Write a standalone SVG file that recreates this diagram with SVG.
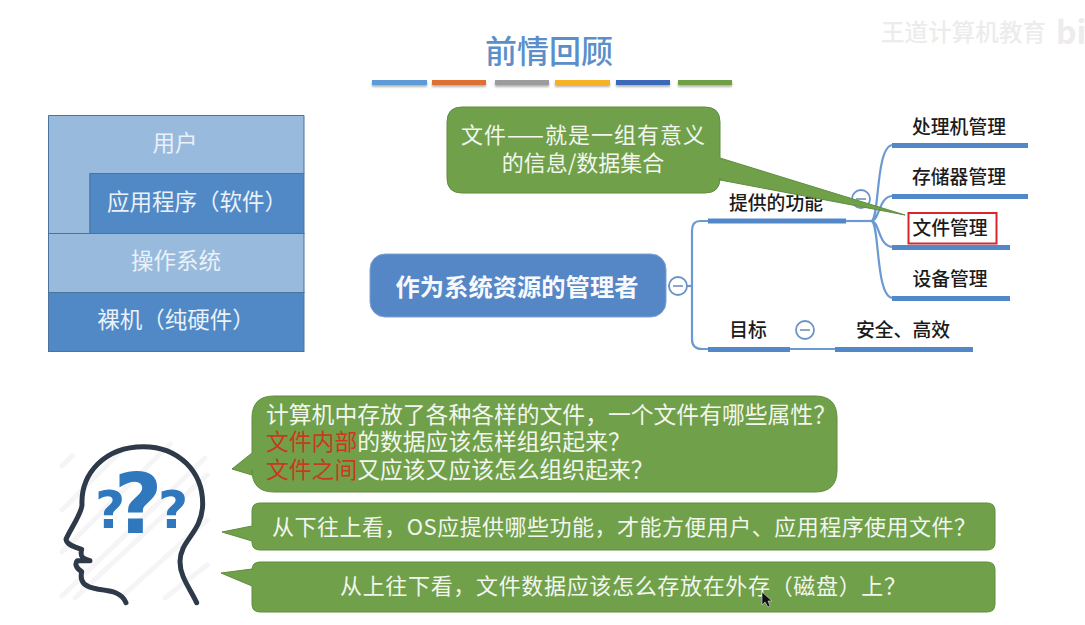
<svg xmlns="http://www.w3.org/2000/svg" width="1085" height="625" viewBox="0 0 1085 625">
<defs>
<filter id="soft" x="-10%" y="-50%" width="120%" height="250%"><feDropShadow dx="0" dy="2" stdDeviation="1.2" flood-color="#555" flood-opacity=".45"/></filter>
</defs>
<style>
text{font-family:"Noto Sans CJK SC","Noto Sans",sans-serif}
.bub{fill:#70a04a;stroke:#5f8d3e;stroke-width:1}
.w{fill:#f2f6ee;font-size:22px}
.big{font-size:22.8px}
.r{fill:#c8391f}
.sw{fill:#eaf1f8;font-size:22.5px;text-anchor:middle}
.lay{stroke:#4a739e;stroke-width:1}
.lt{fill:#97badd}
.dk{fill:#5089c6}
.bar{fill:#5388c8}
.link{fill:none;stroke:#6b9ad2;stroke-width:2.2}
.m{fill:#1b1b1b;font-size:18.8px;font-weight:500;text-anchor:middle}
.col{fill:#fff;stroke:#6b94c6;stroke-width:1.8}
.minus{stroke:#8ca6c6;stroke-width:2}
.q{fill:#2f78bd;font-weight:700;text-anchor:middle;font-family:"DejaVu Sans",sans-serif}
</style>
<rect width="1085" height="625" fill="#fff"/>
<g id="watermark"><text x="881" y="41" font-size="23.5" font-weight="500" fill="#ececec" textLength="165">王道计算机教育</text><text x="1056" y="44" font-size="32" font-weight="700" fill="#ececec">bi</text></g>
<g id="title">
<text x="549" y="63" font-size="32" font-weight="500" fill="#5b8fc9" text-anchor="middle">前情回顾</text>
<g filter="url(#soft)">
<rect x="372" y="80" width="55" height="5" fill="#5b9bd5"/>
<rect x="432" y="80" width="54" height="5" fill="#dd6f31"/>
<rect x="495" y="80" width="54" height="5" fill="#9c9c9c"/>
<rect x="555" y="80" width="55" height="5" fill="#f6b128"/>
<rect x="616" y="80" width="54" height="5" fill="#3b68b8"/>
<rect x="678" y="80" width="54" height="5" fill="#6fa044"/>
</g></g>
<g id="layers">
<path class="lay lt" d="M48.500 115.500H304V173.500H90V233.500H48.500Z"/>
<rect class="lay dk" x="90" y="173.500" width="214" height="60"/>
<rect class="lay lt" x="48.500" y="233.500" width="255.500" height="59"/>
<rect class="lay dk" x="48.500" y="292.500" width="255.500" height="59"/>
<text class="sw" x="175" y="151">用户</text>
<text class="sw" x="197" y="210">应用程序（软件）</text>
<text class="sw" x="176" y="269">操作系统</text>
<text class="sw" x="176" y="328">裸机（纯硬件）</text>
</g>
<g id="connectors">
<path class="link" d="M708 221H700Q692 221 692 231V339Q692 349 702 349H708"/>
<path class="link" d="M668 286H692"/>
<path class="link" d="M846 221H871"/>
<path class="link" d="M871 221C880 221 875 145 893 145M871 221C880 221 878 196 893 196M871 221C880 221 878 247 893 247M871 221C880 221 875 298 893 298"/>
<path class="link" d="M790 349H835"/>
</g>
<g id="root"><rect x="370" y="254" width="296" height="63" rx="15" fill="#5586c6" stroke="#7ca3d6"/><text x="517" y="296" font-size="24.300" font-weight="700" fill="#f7f9fc" text-anchor="middle">作为系统资源的管理者</text>
<circle class="col" cx="678" cy="286" r="9"/><path class="minus" d="M673 286H683"/></g>
<g id="n-func"><rect class="bar" x="708" y="218.500" width="138" height="5"/><text class="m" x="776" y="210">提供的功能</text><circle class="col" cx="861" cy="199" r="9"/><path class="minus" d="M856 199H866"/></g>
<g id="n-cpu"><rect class="bar" x="892" y="143" width="136" height="5"/><text class="m" x="959" y="134">处理机管理</text></g>
<g id="n-mem"><rect class="bar" x="892" y="194" width="136" height="5"/><text class="m" x="959" y="184">存储器管理</text></g>
<g id="n-file"><rect class="bar" x="892" y="245" width="118" height="5"/><rect x="908.500" y="213" width="88" height="30.500" fill="#fff" stroke="#d8262c" stroke-width="2"/><text class="m" x="950" y="235">文件管理</text></g>
<g id="n-dev"><rect class="bar" x="892" y="296" width="118" height="5"/><text class="m" x="950" y="286">设备管理</text></g>
<g id="n-goal"><rect class="bar" x="708" y="347" width="82" height="5"/><text class="m" x="748" y="337">目标</text><circle class="col" cx="805" cy="330" r="9"/><path class="minus" d="M800 330H810"/></g>
<g id="n-eff"><rect class="bar" x="835" y="347" width="138" height="5"/><text class="m" x="903" y="337">安全、高效</text></g>
<g id="callout-file">
<path class="bub" d="M462 107H705Q720 107 720 122V158L905 215L720 180V178Q720 193 705 193H462Q447 193 447 178V122Q447 107 462 107Z"/>
<text class="w" x="461" y="143" textLength="244">文件——就是一组有意义</text>
<text class="w" x="583" y="171" text-anchor="middle">的信息/数据集合</text>
</g>
<g id="head">
<g stroke="#f5f5f7" stroke-width="5" stroke-linecap="round">
<path d="M62 466L72 456M62 510L120 452M62 552L170 444M62 596L205 458M75 598L207 475M120 598L207 520M165 598L207 565"/>
</g>
<g transform="translate(40 430) scale(.3333)">
<path d="M258 518C245 488 220 484 175 478C135 470 118 460 125 425C105 412 105 400 112 392H150C125 385 120 378 125 358C105 352 80 345 78 328C90 300 125 250 126 225C122 130 195 50 310 50C415 50 490 125 488 225C485 310 420 330 420 395C420 440 450 475 470 518" fill="none" stroke="#2e3a49" stroke-width="15" stroke-linecap="round" stroke-linejoin="round"/>
</g>
<text class="q" x="110" y="528" font-size="52">?</text>
<text class="q" x="138" y="533" font-size="84">?</text>
<text class="q" x="173" y="528" font-size="52">?</text>
</g>
<g id="bubble-1">
<path class="bub" d="M274 396H815Q837 396 837 418V470Q837 492 815 492H274Q252 492 252 470V475L232 469L252 453V418Q252 396 274 396Z"/>
<text class="w big" x="266" y="423">计算机中存放了各种各样的文件，一个文件有哪些属性？</text>
<text class="w big" x="266" y="450"><tspan class="r">文件内部</tspan>的数据应该怎样组织起来？</text>
<text class="w big" x="266" y="478"><tspan class="r">文件之间</tspan>又应该又应该怎么组织起来？</text>
</g>
<g id="bubble-2">
<path class="bub" d="M260 503H987Q995 503 995 511V542Q995 550 987 550H260Q252 550 252 542V541L222 532L252 526V511Q252 503 260 503Z"/>
<text class="w" x="272" y="535" textLength="704">从下往上看，OS应提供哪些功能，才能方便用户、应用程序使用文件？</text>
</g>
<g id="bubble-3">
<path class="bub" d="M260 562H987Q995 562 995 570V604Q995 612 987 612H260Q252 612 252 604V586L221 573L252 569V570Q252 562 260 562Z"/>
<text class="w" x="340" y="594" textLength="566">从上往下看，文件数据应该怎么存放在外存（磁盘）上？</text>
</g>
<path id="cursor" d="M762 592V605L765 602L768 607L770 606L768 601H772Z" fill="#111" stroke="#ddd" stroke-width=".6"/>
</svg>
